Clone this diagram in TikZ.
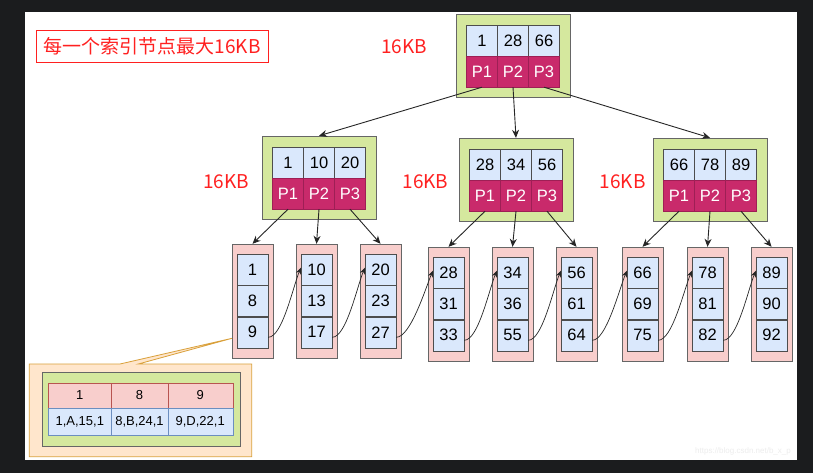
\documentclass[tikz,border=0pt]{standalone}
\usepackage{fontspec}
\setmainfont{Liberation Sans}
\newfontfamily\cjk{Noto Sans CJK SC}
\usetikzlibrary{arrows.meta}
\definecolor{bgdark}{HTML}{1B1C1E}
\definecolor{idxgreen}{HTML}{D5E89E}
\definecolor{keyblue}{HTML}{DAE8FC}
\definecolor{ptrred}{HTML}{C92A6B}
\definecolor{ptrline}{HTML}{9E1F55}
\definecolor{cellline}{HTML}{4D4D4D}
\definecolor{boxgray}{HTML}{666666}
\definecolor{leafpink}{HTML}{F8CECC}
\definecolor{kbred}{HTML}{FF2020}
\definecolor{calloutfill}{HTML}{FFE6CC}
\definecolor{calloutline}{HTML}{D9A03A}
\definecolor{tablered}{HTML}{B85450}
\definecolor{tableblue}{HTML}{6C8EBF}

\begin{document}
\begin{tikzpicture}[x=1pt,y=-1pt,
	idxbox/.style={draw=boxgray, fill=idxgreen, minimum width=114pt, minimum height=83pt, inner sep=0pt},
	leafbox/.style={draw=boxgray, fill=leafpink, minimum width=41pt, minimum height=114pt, inner sep=0pt},
	keycell/.style={draw=cellline, fill=keyblue, minimum width=31pt, minimum height=31pt, inner sep=0pt, font=\fontsize{16.5}{16.5}\selectfont},
	ptrcell/.style={keycell, draw=ptrline, fill=ptrred, text=white},
	rowhead/.style={draw=tablered, fill=leafpink, minimum height=24.4pt, inner sep=0pt, font=\fontsize{13}{13}\selectfont},
	rowdata/.style={draw=tableblue, fill=keyblue, minimum height=27.6pt, inner sep=0pt, font=\fontsize{13}{13}\selectfont},
	kb/.style={text=kbred, font=\cjk\fontsize{19}{19}\selectfont},
	Link/.style={draw=black!85, line width=0.9pt, -{Stealth[length=8pt,width=7pt]}},
	Next/.style={draw=black!85, line width=0.7pt, -{Stealth[length=6.5pt,width=5.5pt]}}
	]
	\useasboundingbox (0,0) rectangle (813,473);
	\fill[bgdark] (0,0) rectangle (813,473);
	\fill[white] (25,12) rectangle (797,460);

	% title and size labels
	\node[draw=kbred, line width=1.4pt, minimum width=232pt, minimum height=32pt, inner sep=0pt, kb] (title) at (152.2,46.7) {每一个索引节点最大16KB};
	\node[kb] (kb-root) at (404,47) {16KB};
	\node[kb] (kb-left) at (226,182) {16KB};
	\node[kb] (kb-mid) at (425.5,182) {16KB};
	\node[kb] (kb-right) at (622.8,182) {16KB};

	% callout with one leaf's rows
	\coordinate (tip) at (232,338.3);
	\draw[draw=calloutline, fill=calloutfill, line width=0.8pt] (120,364) -- (29.3,364) -- (29.3,456.7) -- (251.7,456.7) -- (251.7,364) -- (138.3,364) -- (tip) -- cycle;
	\draw[draw=boxgray, fill=idxgreen, line width=0.8pt] (42.7,372.7) rectangle (240,446);
	\foreach \i/\cx/\w/\k/\v in {1/79.8/63/1/{1,A,15,1}, 2/139.5/56.4/8/{8,B,24,1}, 3/200.2/65/9/{9,D,22,1}}{
		\node[rowhead, minimum width=\w pt] (row-k\i) at (\cx,395.5) {\k};
		\node[rowdata, minimum width=\w pt] (row-v\i) at (\cx,421.5) {\v};
	}

	% index nodes
	\foreach \nm/\x/\y/\a/\b/\c in {root/456/14/1/28/66, left/262/136/1/10/20, mid/459/138/28/34/56, right/653/138/66/78/89}{
		\node[idxbox] (\nm) at (\x+57,\y+41.5) {};
		\node[keycell] (\nm-k1) at (\x+26,\y+26.5) {\a};
		\node[keycell] (\nm-k2) at (\x+57,\y+26.5) {\b};
		\node[keycell] (\nm-k3) at (\x+88,\y+26.5) {\c};
		\foreach \i/\dx in {1/26,2/57,3/88}
			\node[ptrcell] (\nm-p\i) at (\x+\dx,\y+57.5) {P\i};
	}

	% leaf nodes
	\foreach \nm/\x/\y/\a/\b/\c in {l1/232/244/1/8/9, l2/296/244/10/13/17, l3/360/244/20/23/27, l4/428/247/28/31/33, l5/492/247/34/36/55, l6/556/247/56/61/64, l7/622/247/66/69/75, l8/687/247/78/81/82, l9/751/247/89/90/92}{
		\node[leafbox] (\nm) at (\x+20.5,\y+57) {};
		\node[keycell] (\nm-1) at (\x+20.5,\y+25.7) {\a};
		\node[keycell] (\nm-2) at (\x+20.5,\y+57) {\b};
		\node[keycell] (\nm-3) at (\x+20.5,\y+88.3) {\c};
	}

	\foreach \a/\b in {root-p1/left, root-p2/mid, root-p3/right, left-p1/l1, left-p2/l2, left-p3/l3, mid-p1/l4, mid-p2/l5, mid-p3/l6, right-p1/l7, right-p2/l8, right-p3/l9}
		\draw[Link] (\a.south) -- (\b.north);

	% leaf chain
	\foreach \a/\b in {l1/l2, l2/l3, l3/l4, l4/l5, l5/l6, l6/l7, l7/l8, l8/l9}
		\draw[Next] ([yshift=-5pt]\a-3.east) .. controls +(14,0) and +(-8,20) .. ([yshift=2pt]\b-1.west);

	\node[text=black!7, font=\fontsize{8}{8}\selectfont] (mark) at (743,451) {https://blog.csdn.net/b\_x\_p};
\end{tikzpicture}
\end{document}
